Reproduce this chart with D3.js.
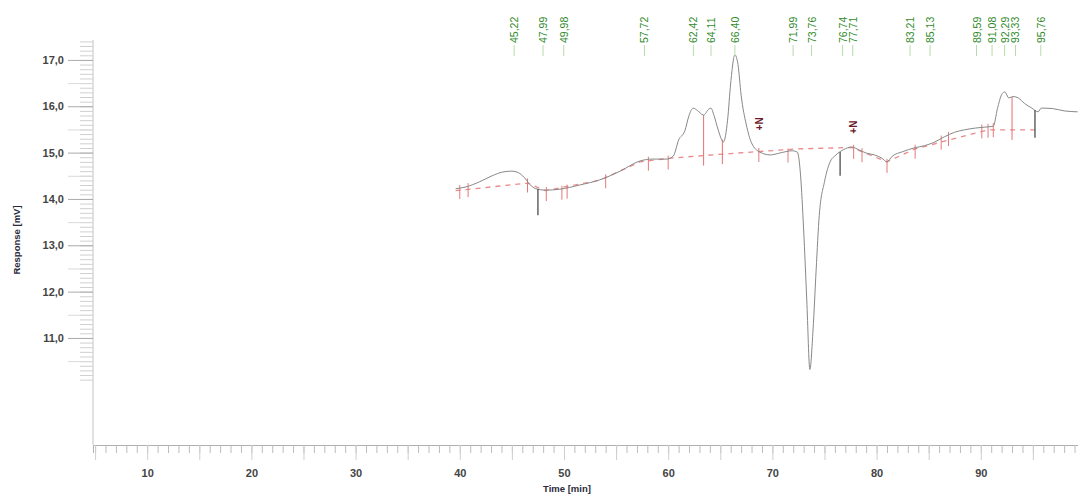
<!DOCTYPE html>
<html lang="en">
<head>
    <meta charset="UTF-8">
    <title>Chromatogram</title>
    <script src="https://d3js.org/d3.v7.min.js"></script>
    <style>
        * { margin: 0; padding: 0; }
        body { background: #fff; }
        svg { display: block; font-family: "Liberation Sans", Arial, sans-serif; }
    </style>
</head>
<body>
    <svg width="1078" height="496"></svg>
    <script>
        // detector trace (time in min, response in mV)
        var traceTime = [39.6, 40.6, 41.9, 43.1, 44.1, 45.0, 45.6, 46.2, 46.7, 47.3, 48.2, 49.6, 51.5, 53.4, 55.4,
            57.3, 58.5, 59.9, 60.5, 61.0, 61.6, 62.0, 62.4, 62.8, 63.4, 63.9, 64.1, 64.4, 64.8, 65.3, 65.7, 66.0,
            66.4, 66.7, 67.0, 67.5, 68.0, 68.8, 69.8, 70.7, 71.9, 72.4, 72.7, 73.0, 73.3, 73.6, 73.9, 74.2, 74.5,
            75.0, 75.5, 76.1, 76.8, 77.6, 78.3, 79.0, 79.8, 80.5, 81.0, 81.5, 82.5, 83.6, 84.6, 85.5, 86.5, 87.5,
            88.4, 89.5, 90.4, 91.2, 91.6, 92.0, 92.3, 92.7, 93.1, 93.6, 94.2, 94.9, 95.5, 95.8, 96.9, 98.0, 99.3];
        var traceResp = [14.22, 14.26, 14.37, 14.50, 14.58, 14.60, 14.57, 14.46, 14.32, 14.22, 14.19, 14.21, 14.30, 14.41, 14.60,
            14.82, 14.86, 14.86, 14.93, 15.27, 15.47, 15.80, 15.96, 15.91, 15.81, 15.94, 15.96, 15.80, 15.49, 15.23, 15.70, 16.50,
            17.11, 16.90, 16.24, 15.60, 15.21, 15.01, 14.95, 14.99, 15.04, 15.01, 14.52, 13.33, 11.82, 10.32, 11.17, 12.47, 13.65,
            14.37, 14.78, 14.95, 15.06, 15.12, 15.06, 14.99, 14.95, 14.88, 14.80, 14.92, 15.02, 15.10, 15.15, 15.22, 15.34, 15.44,
            15.49, 15.53, 15.55, 15.57, 15.95, 16.25, 16.31, 16.18, 16.21, 16.18, 16.06, 15.96, 15.88, 15.96, 15.95, 15.90, 15.88];

        // integration baseline
        var baseTime = [39.6, 46.5, 48.2, 53.4, 57.3, 60.2, 66.0, 72.4, 77.6, 81.0, 83.7, 90.7, 95.7];
        var baseResp = [14.18, 14.34, 14.18, 14.40, 14.80, 14.88, 14.98, 15.08, 15.11, 14.80, 15.08, 15.49, 15.49];

        // retention time labels
        var peakTimes = [45.22, 47.99, 49.98, 57.72, 62.42, 64.11, 66.40, 71.99, 73.76, 76.74, 77.71,
            83.21, 85.13, 89.59, 91.08, 92.29, 93.33, 95.76];

        // peak start / end markers, drop lines, dark spikes, "N" flags
        var markTimes = [40.0, 40.8, 46.5, 48.3, 49.8, 50.3, 54.0, 58.1, 60.0, 68.7, 71.5, 77.8, 78.6,
            81.0, 83.7, 86.2, 86.9, 90.1, 90.7, 91.2];
        var dropTimes = [63.4, 65.2, 93.0];
        var spikeTimes = [47.5, 76.5, 95.2];
        var spikeEnd = [13.65, 14.50, 15.32];
        var flagTimes = [68.8, 77.8];
        var flagResp = [15.62, 15.55];

        var yTicks = [11, 12, 13, 14, 15, 16, 17];
        var xTicks = [10, 20, 30, 40, 50, 60, 70, 80, 90];

        var svg = d3.select('svg');
        var x = d3.scaleLinear().domain([4.8, 99.33]).range([93, 1078]);
        var y = d3.scaleLinear().domain([8.69, 17.43]).range([445, 40]);
        var comma = d3.formatLocale({ decimal: ',', thousands: '.', grouping: [3], currency: ['', ''] });
        var f1 = comma.format('.1f'), f2 = comma.format('.2f');

        var trace = traceTime.map(function (t, i) { return [t, traceResp[i]]; });
        var base = baseTime.map(function (t, i) { return [t, baseResp[i]]; });
        var bis = d3.bisector(function (d) { return d[0]; }).left;
        function at(arr, t) {
            var i = Math.max(1, Math.min(arr.length - 1, bis(arr, t)));
            var a = arr[i - 1], b = arr[i];
            return a[1] + (b[1] - a[1]) * (t - a[0]) / (b[0] - a[0]);
        }

        // y axis: minor, half and major ticks
        svg.append('line').attr('x1', 93).attr('x2', 93).attr('y1', 40).attr('y2', 445)
            .attr('stroke', '#c4c4c4');
        svg.append('g').attr('transform', 'translate(93,0)')
            .call(d3.axisLeft(y).tickValues(d3.range(101, 175).map(function (d) { return d / 10; }))
                .tickSize(13).tickFormat(''))
            .call(function (g) { g.select('.domain').remove(); g.selectAll('line').attr('stroke', '#d0d0d0'); });
        svg.append('g').attr('transform', 'translate(93,0)')
            .call(d3.axisLeft(y).tickValues([10.5, 11.5, 12.5, 13.5, 14.5, 15.5, 16.5]).tickSize(25).tickFormat(''))
            .call(function (g) { g.select('.domain').remove(); g.selectAll('line').attr('stroke', '#dadada'); });
        svg.append('g').attr('transform', 'translate(93,0)')
            .call(d3.axisLeft(y).tickValues(yTicks).tickSize(25).tickPadding(4).tickFormat(f1))
            .call(function (g) {
                g.select('.domain').remove();
                g.selectAll('line').attr('stroke', '#aaa');
                g.selectAll('text').attr('font-size', 11).attr('font-weight', 'bold').attr('fill', '#444');
            });

        // x axis
        svg.append('g').attr('transform', 'translate(0,445)')
            .call(d3.axisBottom(x).tickValues(d3.range(5, 100)).tickSize(8).tickFormat(''))
            .call(function (g) {
                g.select('.domain').attr('stroke', '#b0b0b0');
                g.selectAll('line').attr('stroke', '#bcbcbc');
            });
        svg.append('g').attr('transform', 'translate(0,445)')
            .call(d3.axisBottom(x).tickValues(d3.range(5, 100, 5)).tickSize(15).tickFormat(''))
            .call(function (g) { g.select('.domain').remove(); g.selectAll('line').attr('stroke', '#cfcfcf'); });
        svg.append('g').attr('transform', 'translate(0,445)')
            .call(d3.axisBottom(x).tickValues(xTicks).tickSize(0).tickPadding(24).tickFormat(d3.format('d')))
            .call(function (g) {
                g.select('.domain').remove();
                g.selectAll('text').attr('font-size', 11).attr('font-weight', 'bold').attr('fill', '#444');
            });

        svg.append('text').attr('x', 567).attr('y', 492).attr('text-anchor', 'middle')
            .attr('font-size', 9.5).attr('font-weight', 'bold').attr('fill', '#2a2a3a').text('Time [min]');
        svg.append('text').attr('transform', 'translate(20,240) rotate(-90)').attr('text-anchor', 'middle')
            .attr('font-size', 9.5).attr('font-weight', 'bold').attr('fill', '#2a2a3a').text('Response [mV]');

        // baseline
        svg.append('path').datum(base)
            .attr('d', d3.line().x(function (d) { return x(d[0]); }).y(function (d) { return y(d[1]); }))
            .attr('fill', 'none').attr('stroke', '#ec8a8a').attr('stroke-width', 1.3)
            .attr('stroke-dasharray', '5,5');

        // peak markers
        svg.append('g').selectAll('line').data(markTimes).enter().append('line')
            .attr('x1', function (d) { return x(d); }).attr('x2', function (d) { return x(d); })
            .attr('y1', function (d) { return y(at(trace, d)) - 3; })
            .attr('y2', function (d) { return y(at(trace, d)) + 11; })
            .attr('stroke', '#e47878').attr('stroke-width', 1);
        svg.append('g').selectAll('line').data(dropTimes).enter().append('line')
            .attr('x1', function (d) { return x(d); }).attr('x2', function (d) { return x(d); })
            .attr('y1', function (d) { return y(at(trace, d)); })
            .attr('y2', function (d) { return y(at(base, d)) + 10; })
            .attr('stroke', '#e47070').attr('stroke-width', 1);

        // trace
        svg.append('path').datum(trace)
            .attr('d', d3.line().curve(d3.curveMonotoneX)
                .x(function (d) { return x(d[0]); }).y(function (d) { return y(d[1]); }))
            .attr('fill', 'none').attr('stroke', '#888').attr('stroke-width', 1);

        svg.append('g').selectAll('line').data(spikeTimes).enter().append('line')
            .attr('x1', function (d) { return x(d); }).attr('x2', function (d) { return x(d); })
            .attr('y1', function (d) { return y(at(trace, d)); })
            .attr('y2', function (d, i) { return y(spikeEnd[i]); })
            .attr('stroke', '#5a5a5a').attr('stroke-width', 1.4);

        // "N" flags
        svg.append('g').selectAll('text').data(flagTimes).enter().append('text')
            .attr('transform', function (d, i) { return 'translate(' + (x(d) + 3) + ',' + y(flagResp[i]) + ') rotate(-90)'; })
            .attr('text-anchor', 'middle').attr('font-size', 10).attr('font-weight', 'bold')
            .attr('fill', '#6e1a2a').text('+N');

        // retention time labels
        var lab = svg.append('g').selectAll('g').data(peakTimes).enter().append('g')
            .attr('transform', function (d) { return 'translate(' + x(d) + ',0)'; });
        lab.append('line').attr('y1', 45).attr('y2', 56).attr('stroke', '#b4dcaa');
        lab.append('text').attr('transform', 'translate(4,43) rotate(-90)')
            .attr('font-size', 10.5).attr('fill', '#2f8a2a').text(function (d) { return f2(d); });
    </script>
</body>
</html>
